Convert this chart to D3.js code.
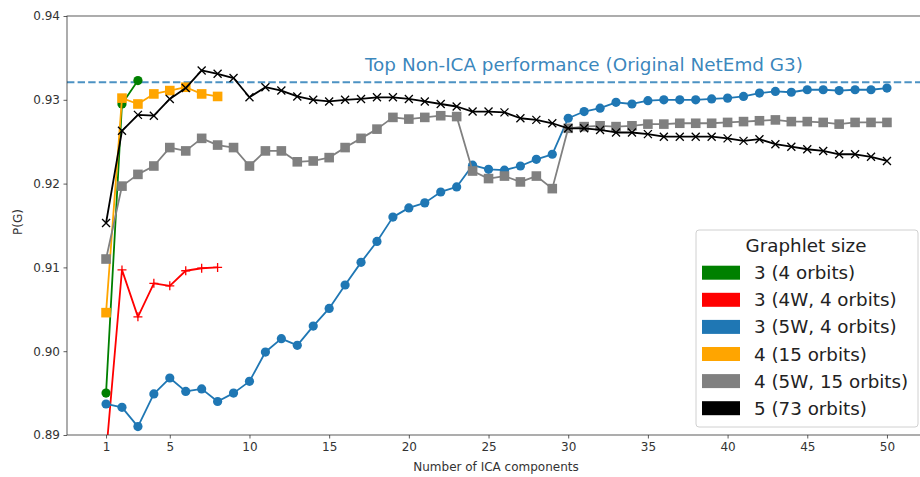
<!DOCTYPE html>
<html>
<head>
<meta charset="utf-8">
<script src="https://cdn.jsdelivr.net/npm/d3@7"></script>
<style>
  html, body { margin: 0; padding: 0; background: #fff; }
  svg { display: block; font-family: "DejaVu Sans", sans-serif; }
</style>
</head>
<body>
<svg id="chart" width="920" height="477"></svg>
<script>
// Number of ICA components (x values start at 1 for every series)
const components = d3.range(1, 51);

const g3 = [0.8950, 0.9295, 0.9323];
const g3w4 = [0.8877, 0.9097, 0.9041, 0.9081, 0.9078, 0.9096, 0.9099, 0.9100];
const g3w5 = [
  0.8937, 0.8933, 0.8910, 0.8949, 0.8968, 0.8952, 0.8955, 0.8940, 0.8950, 0.8964,
  0.8999, 0.9015, 0.9007, 0.9030, 0.9051, 0.9079, 0.9106, 0.9131, 0.9160, 0.9171,
  0.9177, 0.9190, 0.9196, 0.9222, 0.9217, 0.9216, 0.9221, 0.9229, 0.9235, 0.9278,
  0.9286, 0.9290, 0.9297, 0.9295, 0.9299, 0.9300, 0.9300, 0.9300, 0.9301, 0.9302,
  0.9304, 0.9308, 0.9310, 0.9309, 0.9312, 0.9312, 0.9311, 0.9312, 0.9312, 0.9314
];
const g4 = [0.9046, 0.9302, 0.9295, 0.9307, 0.9311, 0.9315, 0.9307, 0.9304];
const g4w5 = [
  0.9110, 0.9197, 0.9211, 0.9221, 0.9243, 0.9239, 0.9254, 0.9246, 0.9243, 0.9221,
  0.9239, 0.9239, 0.9226, 0.9227, 0.9231, 0.9243, 0.9254, 0.9265, 0.9279, 0.9277,
  0.9279, 0.9281, 0.9280, 0.9215, 0.9206, 0.9209, 0.9202, 0.9209, 0.9194, 0.9266,
  0.9268, 0.9269, 0.9268, 0.9269, 0.9271, 0.9271, 0.9272, 0.9272, 0.9272, 0.9273,
  0.9274, 0.9275, 0.9276, 0.9274, 0.9274, 0.9273, 0.9271, 0.9273, 0.9273, 0.9273
];
const g5 = [
  0.9153, 0.9263, 0.9282, 0.9281, 0.9301, 0.9314, 0.9335, 0.9331, 0.9326, 0.9303,
  0.9315, 0.9311, 0.9304, 0.9300, 0.9298, 0.9300, 0.9301, 0.9303, 0.9303, 0.9301,
  0.9298, 0.9295, 0.9292, 0.9286, 0.9286, 0.9285, 0.9278, 0.9276, 0.9272, 0.9266,
  0.9266, 0.9264, 0.9261, 0.9261, 0.9259, 0.9256, 0.9256, 0.9256, 0.9256, 0.9254,
  0.9251, 0.9253, 0.9247, 0.9244, 0.9241, 0.9239, 0.9235, 0.9235, 0.9232, 0.9227
];

const seriesNames = ["3 (4 orbits)", "3 (4W, 4 orbits)", "3 (5W, 4 orbits)",
                     "4 (15 orbits)", "4 (5W, 15 orbits)", "5 (73 orbits)"];
const seriesValues = [g3, g3w4, g3w5, g4, g4w5, g5];
const seriesColors = ["#008000", "#ff0000", "#1f77b4", "#ffa500", "#808080", "#000000"];
const seriesMarkers = ["circle", "plus", "circle", "square", "square", "cross"];

const xTicks = [1, 5, 10, 15, 20, 25, 30, 35, 40, 45, 50];
const yTicks = [0.89, 0.90, 0.91, 0.92, 0.93, 0.94];

const baseline = 0.9321;
const baselineLabel = "Top Non-ICA performance (Original NetEmd G3)";
const legendTitle = "Graphlet size";

// ---- layout ----
const svg = d3.select("#chart");
const x = d3.scaleLinear().domain([-1.45, 52.45]).range([67, 926]);
const y = d3.scaleLinear().domain([0.89, 0.94]).range([435, 16]);

const defs = svg.append("defs");
defs.append("clipPath").attr("id", "plot-clip")
  .append("rect").attr("x", 67).attr("y", 16).attr("width", 859).attr("height", 419);

// baseline reference line and caption
svg.append("line")
  .attr("x1", x.range()[0]).attr("x2", x.range()[1])
  .attr("y1", y(baseline)).attr("y2", y(baseline))
  .attr("stroke", "#1f77b4").attr("stroke-opacity", 0.8)
  .attr("stroke-width", 2).attr("stroke-dasharray", "7.4,3.2");

svg.append("text")
  .attr("x", 365).attr("y", 71)
  .attr("fill", "#1f77b4").attr("fill-opacity", 0.9)
  .attr("font-size", 18.4)
  .text(baselineLabel);

// series
const plot = svg.append("g").attr("clip-path", "url(#plot-clip)");
const line = d3.line().x((d, i) => x(components[i])).y(d => y(d));

seriesValues.forEach((vals, si) => {
  const col = seriesColors[si];
  const g = plot.append("g");
  g.append("path").datum(vals)
    .attr("d", line).attr("fill", "none")
    .attr("stroke", col).attr("stroke-width", 1.8)
    .attr("stroke-linejoin", "round");
  const pts = g.selectAll(".pt").data(vals).enter().append("g")
    .attr("transform", (d, i) => `translate(${x(components[i])},${y(d)})`);
  const m = seriesMarkers[si];
  if (m === "circle") {
    pts.append("circle").attr("r", 4.6).attr("fill", col);
  } else if (m === "square") {
    pts.append("rect").attr("x", -4.8).attr("y", -4.8)
      .attr("width", 9.6).attr("height", 9.6).attr("fill", col);
  } else if (m === "plus") {
    pts.append("path").attr("d", "M-4.5,0H4.5M0,-4.5V4.5")
      .attr("stroke", col).attr("stroke-width", 1.3);
  } else if (m === "cross") {
    pts.append("path").attr("d", "M-4,-4L4,4M-4,4L4,-4")
      .attr("stroke", col).attr("stroke-width", 1.3);
  }
});

// axes
const axisColor = "#333";
const xAxis = svg.append("g").attr("transform", "translate(0,435)")
  .call(d3.axisBottom(x).tickValues(xTicks).tickSize(3.5).tickPadding(3.5).tickFormat(d3.format("d")));
const yAxis = svg.append("g").attr("transform", "translate(67,0)")
  .call(d3.axisLeft(y).tickValues(yTicks).tickSize(3.5).tickPadding(3.5).tickFormat(d3.format(".2f")));
[xAxis, yAxis].forEach(a => {
  a.select(".domain").remove();
  a.selectAll("line").attr("stroke", axisColor).attr("stroke-width", 0.8);
  a.selectAll("text").attr("fill", "#333").attr("font-size", 12)
    .attr("font-family", "DejaVu Sans, sans-serif");
});

// spines
const spines = svg.append("g").attr("stroke", axisColor).attr("stroke-width", 0.8).attr("fill", "none");
spines.append("rect").attr("x", 67).attr("y", 16).attr("width", 859).attr("height", 419);

// axis titles
svg.append("text").attr("x", 496).attr("y", 471).attr("text-anchor", "middle")
  .attr("font-size", 12).attr("fill", "#333").text("Number of ICA components");
svg.append("text").attr("transform", "translate(22,222) rotate(-90)")
  .attr("text-anchor", "middle").attr("font-size", 12).attr("fill", "#333").text("P(G)");

// legend
const lg = svg.append("g");
lg.append("rect").attr("x", 696).attr("y", 230).attr("width", 222).attr("height", 197)
  .attr("rx", 3).attr("fill", "#fff").attr("fill-opacity", 0.85)
  .attr("stroke", "#d0d0d0").attr("stroke-width", 1);
lg.append("text").attr("x", 806).attr("y", 252).attr("text-anchor", "middle")
  .attr("font-size", 18.3).attr("fill", "#222").text(legendTitle);
seriesNames.forEach((name, i) => {
  const cy = 272.7 + i * 27.1;
  lg.append("rect").attr("x", 702).attr("y", cy - 7).attr("width", 38).attr("height", 14)
    .attr("fill", seriesColors[i]);
  lg.append("text").attr("x", 754).attr("y", cy + 6.5)
    .attr("font-size", 18.3).attr("fill", "#222").text(name);
});
</script>
</body>
</html>
